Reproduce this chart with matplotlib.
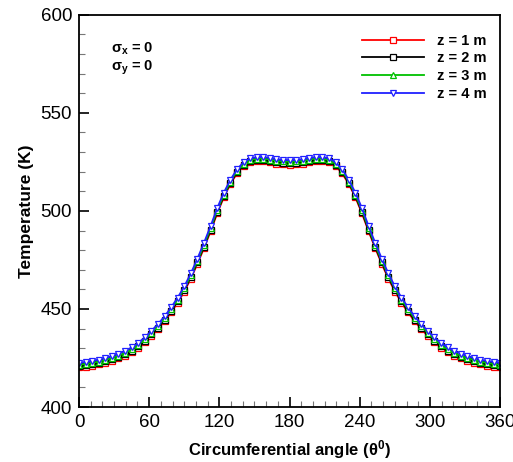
import numpy as np
import matplotlib
matplotlib.use("Agg")
import matplotlib.pyplot as plt
from matplotlib.ticker import MultipleLocator

plt.rcParams['font.family'] = ['Liberation Sans', 'DejaVu Sans']
plt.rcParams['mathtext.fontset'] = 'custom'
plt.rcParams['mathtext.rm'] = 'Liberation Sans'
plt.rcParams['mathtext.bf'] = 'Liberation Sans:bold'
plt.rcParams['mathtext.it'] = 'Liberation Sans:italic'

# circumferential angle, 64 intervals
theta = np.linspace(0, 360, 65)

# temperature (K)
t_z4 = [422.6, 423.0, 423.5, 424.2, 425.0, 426.0, 427.2, 428.6, 430.4, 432.7,
        435.5, 438.8, 442.3, 446.2, 450.8, 455.8, 461.5, 468.2, 475.7, 483.8,
        492.3, 501.4, 509.3, 515.8, 521.2, 524.8, 526.8, 527.4, 527.5, 527.0,
        526.4, 526.0, 525.9, 526.0, 526.4, 527.0, 527.5, 527.4, 526.8, 524.8,
        521.2, 515.8, 509.3, 501.4, 492.3, 483.8, 475.7, 468.2, 461.5, 455.8,
        450.8, 446.2, 442.3, 438.8, 435.5, 432.7, 430.4, 428.6, 427.2, 426.0,
        425.0, 424.2, 423.5, 423.0, 422.6]
t_z3 = [421.6, 422.0, 422.5, 423.2, 424.0, 425.0, 426.2, 427.6, 429.4, 431.7,
        434.5, 437.8, 441.3, 445.2, 449.8, 454.8, 460.5, 467.1, 474.6, 482.7,
        491.2, 500.3, 508.3, 514.9, 520.4, 524.0, 526.0, 526.6, 526.7, 526.2,
        525.6, 525.2, 525.1, 525.2, 525.6, 526.2, 526.7, 526.6, 526.0, 524.0,
        520.4, 514.9, 508.3, 500.3, 491.2, 482.7, 474.6, 467.1, 460.5, 454.8,
        449.8, 445.2, 441.3, 437.8, 434.5, 431.7, 429.4, 427.6, 426.2, 425.0,
        424.0, 423.2, 422.5, 422.0, 421.6]
t_z2 = [420.9, 421.3, 421.8, 422.5, 423.3, 424.3, 425.5, 426.9, 428.7, 431.0,
        433.8, 437.0, 440.5, 444.4, 448.9, 453.9, 459.6, 466.2, 473.7, 481.8,
        490.3, 499.4, 507.5, 514.2, 519.7, 523.4, 525.4, 526.0, 526.1, 525.6,
        525.0, 524.6, 524.5, 524.6, 525.0, 525.6, 526.1, 526.0, 525.4, 523.4,
        519.7, 514.2, 507.5, 499.4, 490.3, 481.8, 473.7, 466.2, 459.6, 453.9,
        448.9, 444.4, 440.5, 437.0, 433.8, 431.0, 428.7, 426.9, 425.5, 424.3,
        423.3, 422.5, 421.8, 421.3, 420.9]
t_z1 = [420.2, 420.6, 421.1, 421.8, 422.6, 423.6, 424.8, 426.2, 428.0, 430.3,
        433.1, 436.3, 439.8, 443.7, 448.2, 453.2, 458.9, 465.5, 473.0, 481.1,
        489.6, 498.7, 506.9, 513.6, 519.1, 522.9, 524.9, 525.4, 525.4, 524.8,
        524.1, 523.7, 523.6, 523.7, 524.1, 524.8, 525.4, 525.4, 524.9, 522.9,
        519.1, 513.6, 506.9, 498.7, 489.6, 481.1, 473.0, 465.5, 458.9, 453.2,
        448.2, 443.7, 439.8, 436.3, 433.1, 430.3, 428.0, 426.2, 424.8, 423.6,
        422.6, 421.8, 421.1, 420.6, 420.2]

series = [
    ("z = 1 m", t_z1, "#ff0000", "s"),
    ("z = 2 m", t_z2, "#000000", "s"),
    ("z = 3 m", t_z3, "#00c000", "^"),
    ("z = 4 m", t_z4, "#2020ff", "v"),
]

fig = plt.figure(figsize=(5.13, 4.62), dpi=100)
ax = fig.add_axes([0.154, 0.119, 0.821, 0.849])

for label, vals, col, mk in series:
    ax.plot(theta, vals, color=col, lw=1.3, marker=mk, ms=4.6,
            mfc="white", mec=col, mew=0.9, label=label)

ax.set_xlim(0, 360)
ax.set_ylim(400, 600)
ax.xaxis.set_major_locator(MultipleLocator(60))
ax.xaxis.set_minor_locator(MultipleLocator(10))
ax.yaxis.set_major_locator(MultipleLocator(50))
ax.yaxis.set_minor_locator(MultipleLocator(10))
ax.tick_params(which="both", direction="in", top=False, right=False,
               labelsize=13.5, width=1.2)
ax.tick_params(which="major", length=7, pad=5)
ax.tick_params(which="minor", length=4, width=0.8, color="#777777")
for sp in ax.spines.values():
    sp.set_linewidth(1.3)

ax.set_xlabel("Circumferential angle (θ$^\\mathbf{0}$)", fontsize=12,
              fontweight="bold", labelpad=5)
ax.set_ylabel("Temperature (K)", fontsize=12.5, fontweight="bold", labelpad=5)

ax.text(0.077, 0.903, "σ$_\\mathbf{x}$ = 0", transform=ax.transAxes,
        fontsize=10.5, fontweight="bold")
ax.text(0.077, 0.858, "σ$_\\mathbf{y}$ = 0", transform=ax.transAxes,
        fontsize=10.5, fontweight="bold")

leg = ax.legend(loc="upper right", bbox_to_anchor=(1.0, 0.985), frameon=False,
                prop={"weight": "bold", "size": 10.5}, handlelength=4.3,
                labelspacing=0.25, handletextpad=0.9)

fig.savefig("out.png", dpi=100)
